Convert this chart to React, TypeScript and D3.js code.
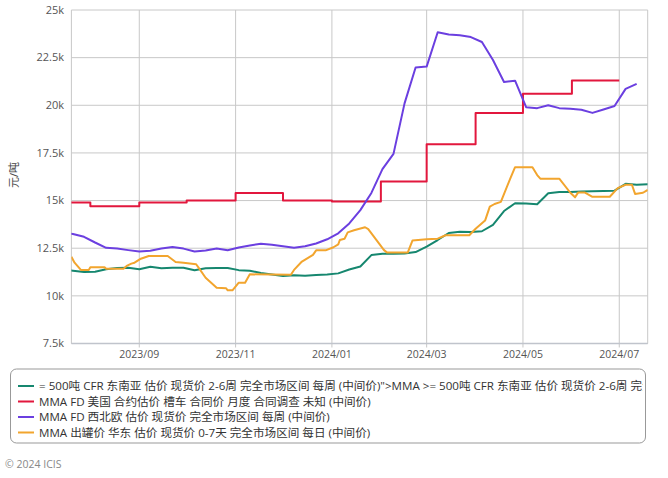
import React from "react";
import * as d3 from "d3";

const W = 668;
const H = 478;

const yTicks = [7500, 10000, 12500, 15000, 17500, 20000, 22500, 25000];
const yTickLabels = ["7.5k", "10k", "12.5k", "15k", "17.5k", "20k", "22.5k", "25k"];
const xTickDates = ["2023-09-01", "2023-11-01", "2024-01-01", "2024-03-01", "2024-05-01", "2024-07-01"];
const xTickLabels = ["2023/09", "2023/11", "2024/01", "2024/03", "2024/05", "2024/07"];

const weekDates = [
  "2023-07-14", "2023-07-21", "2023-07-28", "2023-08-04", "2023-08-11", "2023-08-18", "2023-08-25",
  "2023-09-01", "2023-09-08", "2023-09-15", "2023-09-22", "2023-09-29", "2023-10-06", "2023-10-13",
  "2023-10-20", "2023-10-27", "2023-11-03", "2023-11-10", "2023-11-17", "2023-11-24", "2023-12-01",
  "2023-12-08", "2023-12-15", "2023-12-22", "2023-12-29", "2024-01-05", "2024-01-12", "2024-01-19",
  "2024-01-26", "2024-02-02", "2024-02-09", "2024-02-16", "2024-02-23", "2024-03-01", "2024-03-08",
  "2024-03-15", "2024-03-22", "2024-03-29", "2024-04-05", "2024-04-12", "2024-04-19", "2024-04-26",
  "2024-05-03", "2024-05-10", "2024-05-17", "2024-05-24", "2024-05-31", "2024-06-07", "2024-06-14",
  "2024-06-21", "2024-06-28", "2024-07-05", "2024-07-12", "2024-07-19",
];

// MMA >= 500吨 CFR 东南亚 (weekly)
const seAsiaValues = [
  11350, 11320, 11250, 11260, 11400, 11460, 11470,
  11400, 11530, 11450, 11470, 11480, 11340, 11450,
  11460, 11460, 11350, 11320, 11200, 11120, 11040,
  11080, 11060, 11100, 11120, 11180, 11380, 11540,
  12140, 12210, 12210, 12220, 12300, 12580, 12930,
  13300, 13370, 13350, 13390, 13730, 14450, 14860,
  14850, 14810, 15380, 15450, 15450, 15470, 15490,
  15500, 15520, 15880, 15830, 15850,
];

// MMA FD 西北欧 (weekly, ends 2024-07-12)
const nweValues = [
  13300, 13250, 13100, 12800, 12520, 12480, 12400,
  12330, 12370, 12480, 12560, 12480, 12330, 12380,
  12480, 12390, 12540, 12640, 12740, 12680, 12600,
  12520, 12600, 12750, 12970, 13280, 13800, 14500,
  15400, 16650, 17450, 20100, 21980, 22030, 23830,
  23710, 23680, 23580, 23320, 22380, 21220, 21290,
  19900, 19850, 20000, 19850, 19820, 19770, 19600,
  19780, 19960, 20860, 21120,
];

// MMA FD 美国 合约 (monthly)
const usDates = [
  "2023-07-01", "2023-08-01", "2023-09-01", "2023-10-01", "2023-11-01", "2023-12-01", "2024-01-01",
  "2024-02-01", "2024-03-01", "2024-04-01", "2024-05-01", "2024-06-01", "2024-07-01",
];
const usValues = [14900, 14700, 14900, 15000, 15400, 15000, 14950, 16000, 17950, 19600, 20600, 21300, 21300];

// MMA 出罐价 华东 (daily, change points)
const ecDates = [
  "2023-07-20", "2023-07-22", "2023-07-26", "2023-07-31", "2023-08-01", "2023-08-10", "2023-08-11",
  "2023-08-22", "2023-08-24", "2023-08-27", "2023-08-29", "2023-09-02", "2023-09-07", "2023-09-19",
  "2023-09-24", "2023-09-29", "2023-10-07", "2023-10-09", "2023-10-13", "2023-10-20", "2023-10-26",
  "2023-10-27", "2023-10-30", "2023-11-03", "2023-11-07", "2023-11-10", "2023-12-06", "2023-12-08",
  "2023-12-13", "2023-12-20", "2023-12-22", "2023-12-28", "2024-01-02", "2024-01-05", "2024-01-06",
  "2024-01-09", "2024-01-11", "2024-01-15", "2024-01-22", "2024-01-24", "2024-02-03", "2024-02-05",
  "2024-02-18", "2024-02-21", "2024-03-01", "2024-03-08", "2024-03-13", "2024-03-28", "2024-04-01",
  "2024-04-07", "2024-04-10", "2024-04-13", "2024-04-17", "2024-04-23", "2024-04-26", "2024-05-07",
  "2024-05-10", "2024-05-12", "2024-05-24", "2024-05-31", "2024-06-03", "2024-06-05", "2024-06-09",
  "2024-06-14", "2024-06-25", "2024-06-30", "2024-07-05", "2024-07-09", "2024-07-11", "2024-07-16",
  "2024-07-19",
];
const ecValues = [
  12050, 11740, 11360, 11360, 11500, 11500, 11420,
  11420, 11570, 11690, 11740, 11950, 12090, 12090,
  11780, 11740, 11660, 11430, 10950, 10430, 10400,
  10290, 10290, 10690, 10690, 11130, 11110, 11360,
  11800, 12150, 12390, 12390, 12550, 12700, 12930,
  13000, 13330, 13440, 13600, 13500, 12400, 12270,
  12270, 12900, 12970, 13000, 13180, 13180, 13520,
  13950, 14680, 14820, 14930, 16170, 16750, 16750,
  16340, 16150, 16150, 15410, 15170, 15430, 15430,
  15200, 15200, 15650, 15830, 15830, 15350, 15410,
  15560,
];

const legendLabels = [
  "= 500吨 CFR 东南亚 估价 现货价 2-6周 完全市场区间 每周 (中间价)\">MMA >= 500吨 CFR 东南亚 估价 现货价 2-6周 完全市场区间 每周 (中间价)",
  "MMA FD 美国 合约估价 槽车 合同价 月度 合同调查 未知 (中间价)",
  "MMA FD 西北欧 估价 现货价 完全市场区间 每周 (中间价)",
  "MMA 出罐价 华东 估价 现货价 0-7天 完全市场区间 每日 (中间价)",
];
const colors = ["#16876f", "#e2173d", "#6b3fe0", "#f2a52e"];

const FONT = "'Open Sans', 'Noto Sans CJK SC', sans-serif";

const parse = d3.utcParse("%Y-%m-%d");

export default function App() {
  const left = 71.4, right = 647.7, top = 10, bottom = 343.5;
  const x = d3.scaleUtc()
    .domain([parse("2023-07-20")!, parse("2024-07-19")!])
    .range([left, right]);
  const y = d3.scaleLinear().domain([7500, 25000]).range([bottom, top]);

  type P = { d: Date; v: number };
  const seAsia: P[] = seAsiaValues.map((v, i) => ({ d: parse(weekDates[i])!, v }));
  const nwe: P[] = nweValues.map((v, i) => ({ d: parse(weekDates[i])!, v }));
  const us: P[] = usValues.map((v, i) => ({ d: parse(usDates[i])!, v }));
  const ec: P[] = ecValues.map((v, i) => ({ d: parse(ecDates[i])!, v }));

  const line = d3.line<P>().x(p => x(p.d)).y(p => y(p.v));
  const stepLine = d3.line<P>().x(p => x(p.d)).y(p => y(p.v)).curve(d3.curveStepAfter);

  const series = [
    { path: line(seAsia), color: colors[0] },
    { path: stepLine(us), color: colors[1] },
    { path: line(nwe), color: colors[2] },
    { path: line(ec), color: colors[3] },
  ];

  const legendX = 10.5, legendY = 369, legendW = 635, legendH = 74;
  const rowY = [386, 401.5, 417, 432.5];

  return (
    <svg width={W} height={H} style={{ position: "fixed", left: 0, top: 0, background: "#fff" }} fontFamily={FONT}>
      <defs>
        <clipPath id="plotClip">
          <rect x={left} y={top - 2} width={right - left} height={bottom - top + 4} />
        </clipPath>
        <clipPath id="legendClip">
          <rect x={legendX + 1} y={legendY} width={legendW - 4} height={legendH} />
        </clipPath>
      </defs>
      <rect width={W} height={H} fill="#fff" />

      {yTicks.map((t, i) => (
        <g key={"y" + i}>
          <line x1={left} x2={right} y1={y(t)} y2={y(t)} stroke="#c8c8c8" strokeWidth={1} />
          <text x={64} y={y(t)} dy="0.35em" textAnchor="end" fontSize={11} fill="#555">{yTickLabels[i]}</text>
        </g>
      ))}
      {xTickDates.map((t, i) => {
        const xv = x(parse(t)!);
        return (
          <g key={"x" + i}>
            <line x1={xv} x2={xv} y1={top} y2={bottom + 4} stroke="#c8c8c8" strokeWidth={1} />
            <text x={xv} y={358} textAnchor="middle" fontSize={10.5} fill="#555">{xTickLabels[i]}</text>
          </g>
        );
      })}
      <line x1={left} x2={left} y1={top} y2={bottom} stroke="#c8c8c8" strokeWidth={1} />
      <line x1={right} x2={right} y1={top} y2={bottom} stroke="#c8c8c8" strokeWidth={1} />
      <line x1={left} x2={right} y1={bottom} y2={bottom} stroke="#c0c4cc" strokeWidth={1.5} />

      <text transform={`translate(18,175) rotate(-90)`} textAnchor="middle" fontSize={11} fill="#444">元/吨</text>

      <g clipPath="url(#plotClip)">
        {series.map((s, i) => (
          <path key={i} d={s.path ?? ""} fill="none" stroke={s.color} strokeWidth={2} strokeLinejoin="round" />
        ))}
      </g>

      <rect x={legendX} y={legendY} width={legendW} height={legendH} rx={6} ry={6} fill="none" stroke="#999" strokeWidth={1} />
      <g clipPath="url(#legendClip)">
        {legendLabels.map((lab, i) => (
          <g key={"l" + i}>
            <line x1={18} x2={34} y1={rowY[i]} y2={rowY[i]} stroke={colors[i]} strokeWidth={2} />
            <text x={39} y={rowY[i]} dy="0.35em" fontSize={11.6} fill="#333">{lab}</text>
          </g>
        ))}
      </g>

      <text x={5} y={468} fontSize={10.5} fill="#888">© 2024 ICIS</text>
    </svg>
  );
}
